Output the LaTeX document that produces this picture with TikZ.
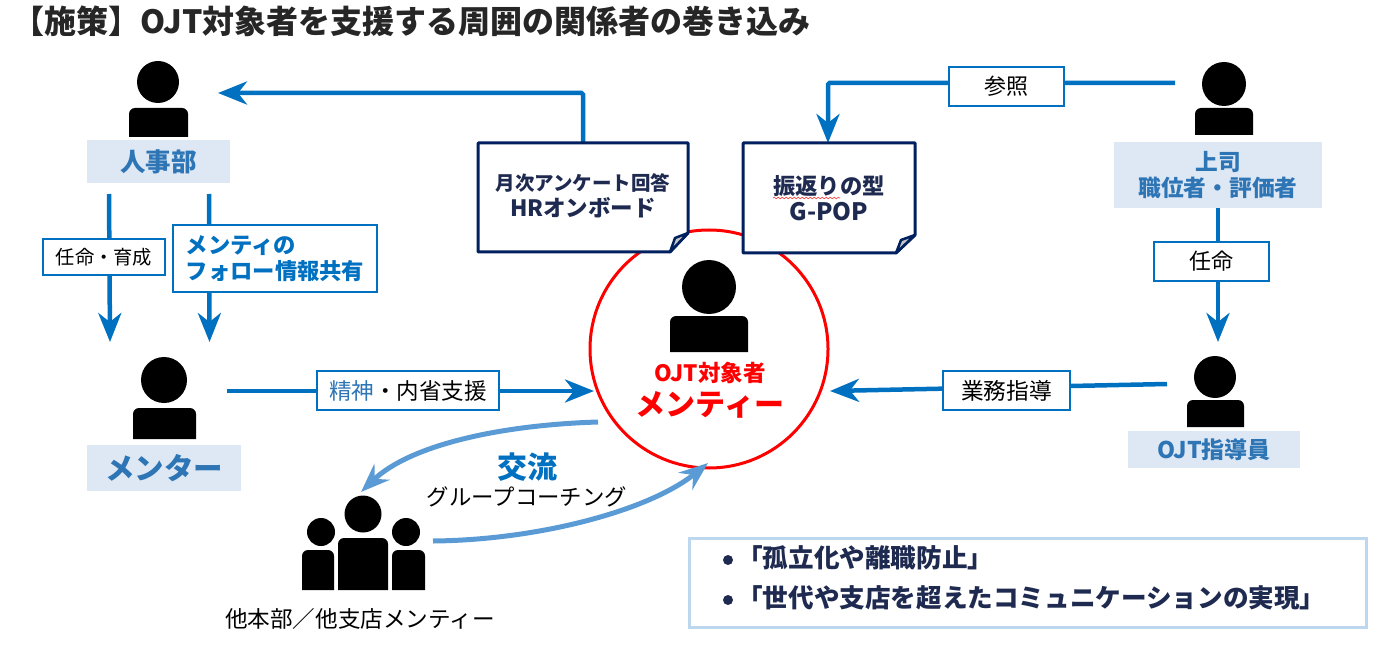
\documentclass[tikz,border=0pt]{standalone}
\usepackage{fontspec}
\setmainfont{Noto Sans CJK JP}
\usetikzlibrary{arrows.meta,backgrounds,decorations.pathmorphing}
\definecolor{flowblue}{HTML}{0070C0}
\definecolor{softblue}{HTML}{5B9BD5}
\definecolor{paleblue}{HTML}{DEE8F4}
\definecolor{labelblue}{HTML}{2E75B6}
\definecolor{navy}{HTML}{002060}
\definecolor{inkblue}{HTML}{1F2A50}
\definecolor{framepale}{HTML}{BDD7EE}
\newcommand{\fs}[1]{\fontsize{#1pt}{#1pt}\selectfont}
% head node name, head x, y, radius, body x1, x2, y1, y2
\newcommand{\figureicon}[8]{%
  \node[headdot,minimum size=#4*2pt] (#1) at (#2,#3) {};
  \fill (#5,#8) [rounded corners=6pt] -- (#5,#7) -- (#6,#7) [sharp corners] -- (#6,#8) -- cycle;
}
\tikzset{
  headdot/.style={circle,fill=black,inner sep=0pt},
  flow/.style={draw=flowblue,line width=4.5pt,rounded corners=1.5pt},
  softflow/.style={draw=softblue,line width=5pt},
  tipflow/.style={-{Stealth[length=29pt,width=23pt,inset=9pt]}},
  tipsoft/.style={-{Stealth[length=29pt,width=22pt,inset=10pt]}},
  tag/.style={draw=flowblue,line width=2pt,fill=white,inner sep=0pt,align=center,text=black},
  namebox/.style={fill=paleblue,inner sep=0pt,align=center,text=labelblue,font=\bfseries},
  note/.style={inner sep=0pt,align=center,text=inkblue,font=\bfseries},
  noteedge/.style={draw=navy,line width=3pt,fill=white,line join=round},
  notefold/.style={draw=navy,line width=2.5pt,fill=gray!45,line join=round},
}
\begin{document}
\begin{tikzpicture}[x=1pt,y=-1pt]
\useasboundingbox (0,0) rectangle (1399,660);

% title
\node[anchor=west,inner sep=0pt,font=\bfseries\fs{32},text=black!85] (title) at (12,21) {【施策】OJT対象者を支援する周囲の関係者の巻き込み};

% central circle
\node[circle,draw=red,line width=3pt,minimum size=238pt,inner sep=0pt] (mentee) at (709,349) {};
\figureicon{menteehead}{709}{287}{27}{670}{748}{316}{352}
\node[inner sep=0pt,text=red,font=\bfseries\fs{22.5}] (menteeA) at (710,373) {OJT対象者};
\node[inner sep=0pt,text=red,font=\bfseries\fs{30}] (menteeB) at (710,405) {メンティー};

% notes
\draw[noteedge] (478,143) -- (688,143) -- (688,233) -- (670,252) -- (478,252) -- cycle;
\draw[notefold] (670,252) -- (675,238) -- (688,233) -- cycle;
\node[note,minimum width=210pt,minimum height=60pt] (hrnote) at (583,196) {\fs{19.5}月次アンケート回答\\[4pt]\fs{22.5}HRオンボード};
\draw[noteedge] (743,143) -- (915,143) -- (915,235) -- (896,253) -- (743,253) -- cycle;
\draw[notefold] (896,253) -- (901,240) -- (915,235) -- cycle;
\node[note,minimum width=172pt,minimum height=60pt] (gpop) at (829,198) {\fs{22.3}振返りの型\\[5pt]\fs{24}G-POP};
\draw[red!75,line width=0.6pt,decorate,decoration={snake,amplitude=0.8pt,segment length=4pt}] (773,198) -- (840,198);

% people
\figureicon{hrhead}{158}{82}{21}{129}{188}{108}{137}
\node[namebox,minimum width=143pt,minimum height=43pt,font=\bfseries\fs{25.5}] (hr) at (158.5,161.5) {人事部};
\figureicon{mentorhead}{164}{380}{23}{133}{196}{408}{439}
\node[namebox,minimum width=154pt,minimum height=46pt,font=\bfseries\fs{29.5}] (mentor) at (164,468) {メンター};
\figureicon{bosshead}{1224}{84}{22}{1195}{1253}{108}{135}
\node[namebox,minimum width=208pt,minimum height=66pt,font=\bfseries\fs{22.7}] (boss) at (1218,175) {上司\\[3pt]職位者・評価者};
\figureicon{trainerhead}{1215}{377}{21}{1187}{1244}{400}{427}
\node[namebox,minimum width=172pt,minimum height=37pt,font=\bfseries\fs{23}] (trainer) at (1214,449.5) {OJT指導員};

% group
\figureicon{grouphead}{363}{514}{18.5}{338}{388}{538}{590}
\figureicon{groupleft}{321}{532}{14}{302}{334}{550}{590}
\figureicon{groupright}{406}{532}{14}{392}{425}{550}{590}
\node[inner sep=0pt,font=\fs{22.6}] (grouplabel) at (360,619) {他本部／他支店メンティー};

% tags
\node[tag,minimum width=122pt,minimum height=36pt,font=\fs{19.3}] (tagA) at (104,257) {任命・育成};
\node[tag,minimum width=204pt,minimum height=67pt,font=\bfseries\fs{22.3},text=flowblue,align=left] (tagB) at (275,258.5) {メンティの\\[3pt]フォロー情報共有};
\node[tag,minimum width=182pt,minimum height=39pt,font=\fs{22.5}] (tagC) at (408,390.5) {\textcolor{labelblue}{精神}・内省支援};
\node[tag,minimum width=115pt,minimum height=39pt,font=\fs{22}] (tagD) at (1006.5,86.5) {参照};
\node[tag,minimum width=115pt,minimum height=39pt,font=\fs{22}] (tagE) at (1211.5,261.5) {任命};
\node[tag,minimum width=127pt,minimum height=39pt,font=\fs{22.7}] (tagF) at (1006.5,390.5) {業務指導};

% connector ends
\coordinate (hrnoteout) at (583,143);
\coordinate (hrin) at (218,93);
\coordinate (hrleft) at (109,194);
\coordinate (hrright) at (209,194);
\coordinate (mentorinL) at (110,342);
\coordinate (mentorinR) at (209.5,342);
\coordinate (mentorout) at (227,391);
\coordinate (menteeinL) at (594,391);
\coordinate (bossout) at (1175,83);
\coordinate (gpopin) at (828,143);
\coordinate (bossdown) at (1218,200);
\coordinate (trainerin) at (1218,342);
\coordinate (trainerout) at (1167,384);
\coordinate (menteeinR) at (830,391);
\coordinate (menteeout) at (598,422);
\coordinate (groupin) at (361,492);
\coordinate (groupout) at (433,541);
\coordinate (menteeinB) at (708,463);

\begin{scope}[on background layer]
  \draw[flow,tipflow] (hrnoteout) |- (hrin);
  \draw[flow,tipflow] (hrleft) -- (mentorinL);
  \draw[flow,tipflow] (hrright) -- (mentorinR);
  \draw[flow,tipflow] (mentorout) -- (menteeinL);
  \draw[flow,tipflow] (bossout) -| (gpopin);
  \draw[flow,tipflow] (bossdown) -- (trainerin);
  \draw[flow,tipflow] (trainerout) -- (menteeinR);
\end{scope}
\draw[softflow,tipsoft] (menteeout) .. controls (500,425) and (410,445) .. (groupin);
\draw[softflow,tipsoft] (groupout) .. controls (540,540) and (650,510) .. (menteeinB);

\node[inner sep=0pt,text=flowblue,font=\bfseries\fs{30}] (exch) at (527,467) {交流};
\node[inner sep=0pt,font=\fs{22.4}] (coach) at (527,497) {グループコーチング};

% result box
\node[draw=framepale,line width=3pt,fill=white,minimum width=677pt,minimum height=89pt,inner sep=0pt] (result) at (1027.5,582.5) {};
\node[circle,fill=inkblue,minimum size=10pt,inner sep=0pt] (dotA) at (728,560) {};
\node[circle,fill=inkblue,minimum size=10pt,inner sep=0pt] (dotB) at (728,600) {};
\node[anchor=west,inner sep=0pt,text=inkblue,font=\bfseries\fs{25.6}] (resA) at (737,558) {「孤立化や離職防止」};
\node[anchor=west,inner sep=0pt,text=inkblue,font=\bfseries\fs{25.6}] (resB) at (737,598) {「世代や支店を超えたコミュニケーションの実現」};
\end{tikzpicture}
\end{document}
